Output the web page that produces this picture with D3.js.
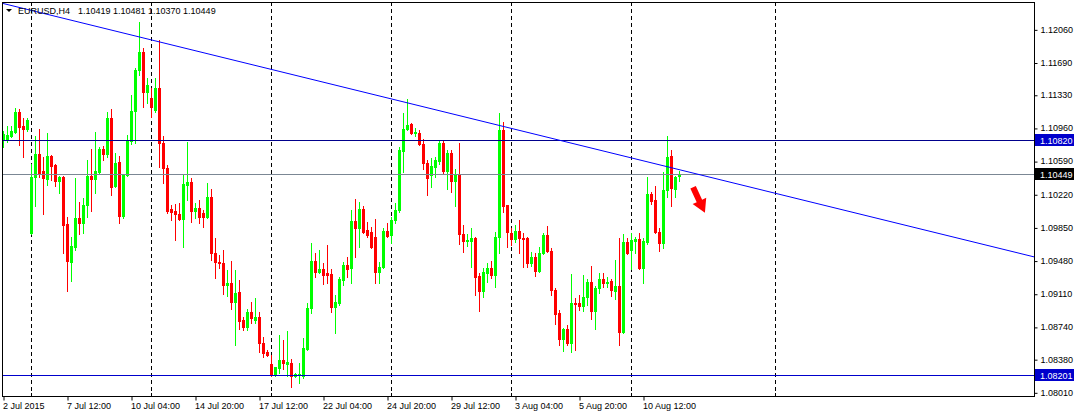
<!DOCTYPE html>
<html>
<head>
<meta charset="utf-8">
<script src="https://cdn.jsdelivr.net/npm/d3@7"></script>
<style>
body { margin: 0; background: #fff; }
svg { display: block; }
text { font-family: "Liberation Sans", Arial, sans-serif; font-size: 9px; fill: #000; }
</style>
</head>
<body>
<script>
var width = 1077, height = 414;
var frame = {left: 2, top: 2, right: 1034, bottom: 396};

var symbol = "EURUSD,H4";

// H4 bars, first visible bar = 2 Jul 20:00
var opens = [1.10825,1.10825,1.10870,1.10915,1.11138,1.10981,1.10948,1.09788,1.10412,1.10668,
1.10479,1.10390,1.10646,1.10546,1.10368,1.10412,1.09887,1.09464,1.09631,1.09955,
1.09899,1.10100,1.10423,1.10390,1.10468,1.10725,1.10668,1.11071,1.10312,1.10580,
1.09977,1.10434,1.10814,1.11149,1.11606,1.11807,1.11361,1.11294,1.11160,1.11405,
1.10792,1.10513,1.10056,1.10033,1.09999,1.09943,1.10323,1.10357,1.10033,1.10067,
1.10011,1.09966,1.10189,1.09565,1.09464,1.09453,1.09207,1.09230,1.09018,1.09130,
1.08817,1.08738,1.08906,1.08817,1.08850,1.08561,1.08460,1.08326,1.08203,1.08281,
1.08371,1.08326,1.08338,1.08192,1.08203,1.08192,1.08493,1.08950,1.09475,1.09353,
1.09386,1.09342,1.09330,1.08962,1.09007,1.09263,1.09430,1.09397,1.09921,1.09843,
1.10056,1.09821,1.09799,1.09743,1.09353,1.09408,1.09810,1.09765,1.09932,1.10044,
1.10702,1.10948,1.11003,1.10904,1.10904,1.10780,1.10569,1.10434,1.10524,1.10591,
1.10792,1.10479,1.10680,1.10368,1.10434,1.09776,1.09698,1.09698,1.09731,1.09308,
1.09141,1.09342,1.09397,1.09319,1.09743,1.10937,1.10100,1.09788,1.09720,1.09810,
1.09731,1.09731,1.09453,1.09520,1.09364,1.09565,1.09765,1.09587,1.09152,1.08895,
1.08605,1.08716,1.08561,1.09007,1.09007,1.08974,1.09074,1.09241,1.08917,1.09174,
1.09274,1.09230,1.09252,1.09141,1.09196,1.08683,1.09687,1.09598,1.09698,1.09720,
1.09397,1.09687,1.10222,1.10156,1.09799,1.09676,1.10267,1.10646,1.10278,1.10419];

var highs = [1.10926,1.10981,1.10981,1.11182,1.11171,1.11071,1.11071,1.10557,1.10870,1.10948,
1.10635,1.10904,1.10657,1.10557,1.10423,1.10423,1.09966,1.09743,1.10401,1.10134,
1.10178,1.10602,1.10725,1.10915,1.10747,1.10758,1.11138,1.11171,1.10680,1.10646,
1.10445,1.10881,1.11327,1.11628,1.12142,1.11851,1.11516,1.11405,1.11516,1.11941,
1.10870,1.10546,1.10100,1.10111,1.10123,1.10434,1.10803,1.10401,1.10123,1.10156,
1.10044,1.10346,1.10278,1.09731,1.09542,1.09598,1.09375,1.09475,1.09375,1.09263,
1.08850,1.08939,1.09018,1.09062,1.08906,1.08627,1.08482,1.08426,1.08292,1.08649,
1.08594,1.08694,1.08382,1.08226,1.08338,1.08616,1.09007,1.09676,1.09565,1.09598,
1.09453,1.09653,1.09386,1.09096,1.09296,1.09464,1.09520,1.10044,1.10167,1.10134,
1.10089,1.09910,1.09854,1.09943,1.09464,1.09843,1.09899,1.09966,1.10123,1.10747,
1.11127,1.11282,1.11014,1.10959,1.10937,1.10836,1.10602,1.10624,1.10635,1.10825,
1.10814,1.10713,1.10713,1.10501,1.10792,1.09876,1.09776,1.09843,1.09743,1.09342,
1.09397,1.09453,1.09475,1.09799,1.11127,1.11026,1.10100,1.09843,1.09876,1.09932,
1.09788,1.09743,1.09576,1.09565,1.09631,1.09788,1.09866,1.09620,1.09174,1.08928,
1.08728,1.08761,1.09330,1.09062,1.09096,1.09319,1.09274,1.09419,1.09196,1.09342,
1.09342,1.09296,1.09274,1.09486,1.09731,1.09776,1.09731,1.09788,1.09743,1.09788,
1.09731,1.10412,1.10245,1.10312,1.09843,1.10468,1.10870,1.10713,1.10423,1.10481];

var lows = [1.10747,1.10803,1.10859,1.10904,1.10769,1.10635,1.10926,1.09776,1.10089,1.10412,
1.09999,1.10323,1.10379,1.10312,1.10234,1.09565,1.09141,1.09252,1.09598,1.09776,
1.09788,1.09966,1.10033,1.10234,1.10457,1.10602,1.10635,1.10211,1.10301,1.09899,
1.09955,1.10423,1.10780,1.10792,1.11550,1.11193,1.11238,1.11082,1.11138,1.10524,
1.10346,1.10011,1.09932,1.09709,1.09932,1.09631,1.10156,1.09910,1.09955,1.09899,
1.09854,1.09955,1.09486,1.09285,1.09397,1.09107,1.09085,1.08939,1.08538,1.08716,
1.08705,1.08705,1.08784,1.08784,1.08460,1.08404,1.08416,1.08192,1.08192,1.08226,
1.08270,1.08192,1.08069,1.08181,1.08114,1.08169,1.08482,1.08895,1.09296,1.09342,
1.09218,1.09230,1.08906,1.08672,1.08984,1.09207,1.09296,1.09230,1.09520,1.09631,
1.09788,1.09743,1.09620,1.09230,1.09230,1.09397,1.09743,1.09676,1.09899,1.10022,
1.10468,1.10937,1.10892,1.10870,1.10769,1.10501,1.10211,1.10301,1.10412,1.10557,
1.10445,1.10278,1.10245,1.10089,1.09664,1.09576,1.09642,1.09408,1.09096,1.08917,
1.09074,1.09241,1.09285,1.09185,1.09565,1.10022,1.09631,1.09654,1.09687,1.09565,
1.09408,1.09408,1.09419,1.09308,1.09353,1.09554,1.09576,1.09096,1.08772,1.08538,
1.08471,1.08538,1.08460,1.08482,1.08928,1.08917,1.08984,1.08828,1.08716,1.09119,
1.09185,1.09185,1.09085,1.09051,1.08538,1.08672,1.09554,1.09386,1.09565,1.09386,
1.09230,1.09664,1.10111,1.09788,1.09587,1.09620,1.10189,1.10089,1.10189,1.10370];

var closes = [1.10892,1.10881,1.10926,1.11138,1.10970,1.10948,1.11048,1.10412,1.10668,1.10457,
1.10401,1.10646,1.10535,1.10368,1.10412,1.09876,1.09475,1.09642,1.09955,1.09899,
1.10100,1.10423,1.10390,1.10479,1.10725,1.10668,1.11071,1.10301,1.10569,1.09977,
1.10434,1.10814,1.11149,1.11606,1.11807,1.11361,1.11438,1.11193,1.11405,1.10792,
1.10513,1.10033,1.10022,1.09999,1.09943,1.10334,1.10357,1.10033,1.10067,1.09966,
1.09966,1.10189,1.09565,1.09464,1.09453,1.09207,1.09230,1.09018,1.09119,1.08806,
1.08738,1.08906,1.08839,1.08850,1.08561,1.08449,1.08426,1.08203,1.08292,1.08371,
1.08338,1.08349,1.08192,1.08214,1.08214,1.08504,1.08950,1.09475,1.09353,1.09386,
1.09319,1.09319,1.08962,1.09018,1.09274,1.09430,1.09386,1.09921,1.09843,1.10056,
1.09799,1.09765,1.09631,1.09353,1.09408,1.09810,1.09754,1.09932,1.10044,1.10713,
1.10948,1.10992,1.10904,1.10915,1.10780,1.10569,1.10401,1.10535,1.10602,1.10792,
1.10479,1.10680,1.10368,1.10434,1.09776,1.09698,1.09709,1.09731,1.09296,1.09141,
1.09353,1.09397,1.09319,1.09743,1.10937,1.10089,1.09799,1.09720,1.09810,1.09731,
1.09720,1.09453,1.09520,1.09364,1.09565,1.09765,1.09587,1.09152,1.08884,1.08605,
1.08716,1.08561,1.09007,1.08996,1.08974,1.09074,1.09241,1.08917,1.09174,1.09274,
1.09230,1.09241,1.09152,1.09196,1.08683,1.09687,1.09565,1.09709,1.09720,1.09397,
1.09698,1.10222,1.10145,1.09799,1.09676,1.10267,1.10635,1.10289,1.10412,1.10449];

var labelBars = [0, 16, 32, 48, 64, 80, 96, 112, 128, 144, 160];
var labelTexts = ["2 Jul 2015", "7 Jul 12:00", "10 Jul 04:00", "14 Jul 20:00", "17 Jul 12:00",
    "22 Jul 04:00", "24 Jul 20:00", "29 Jul 12:00", "3 Aug 04:00", "5 Aug 20:00", "10 Aug 12:00"];
var separatorBars = [7, 37, 67, 97, 127, 157, 193];
var priceTicks = [1.12060, 1.11690, 1.11330, 1.10960, 1.10590, 1.10220,
    1.09850, 1.09480, 1.09110, 1.08740, 1.08380, 1.08010];
var levels = [1.10820, 1.08201];
var levelColors = ["#00008c", "#0000cc"];
var trendBars = [0, 169];
var trendPrices = [1.12349, 1.10495];
var arrowBar = 174, arrowPrice = 1.10156;

var candles = opens.map(function(o, i) {
    return {i: i, open: o, high: highs[i], low: lows[i], close: closes[i]};
});
var last = candles[candles.length - 1];
var bid = last.close;
var fmt = d3.format(".5f");

var xScale = d3.scaleLinear().domain([0, 257]).range([3, 1031]);
var yScale = d3.scaleLinear().domain([1.07969, 1.12354]).range([396, 3]);
function py(p) { return Math.round(yScale(p)); }

var svg = d3.select("body").append("svg")
    .attr("width", width)
    .attr("height", height);

svg.append("defs").append("clipPath")
    .attr("id", "plot-clip")
    .append("rect")
    .attr("x", frame.left)
    .attr("y", frame.top)
    .attr("width", frame.right - frame.left)
    .attr("height", frame.bottom - frame.top);

var plot = svg.append("g").attr("clip-path", "url(#plot-clip)");

// weekly separators
plot.selectAll(".sep")
    .data(separatorBars)
    .enter()
    .append("line")
    .attr("x1", function(d) { return xScale(d) + 0.5; })
    .attr("x2", function(d) { return xScale(d) + 0.5; })
    .attr("y1", frame.top)
    .attr("y2", frame.bottom)
    .attr("stroke", "#000")
    .attr("stroke-dasharray", "4,3");

function col(d) { return d.close >= d.open ? "#00ff00" : "#ff0000"; }

plot.selectAll(".wick")
    .data(candles)
    .enter()
    .append("rect")
    .attr("x", function(d) { return xScale(d.i); })
    .attr("width", 1)
    .attr("y", function(d) { return py(d.high); })
    .attr("height", function(d) { return py(d.low) - py(d.high) + 1; })
    .attr("fill", col);

plot.selectAll(".body")
    .data(candles)
    .enter()
    .append("rect")
    .attr("x", function(d) { return xScale(d.i) - 1; })
    .attr("width", 3)
    .attr("y", function(d) { return py(Math.max(d.open, d.close)); })
    .attr("height", function(d) {
        return Math.max(1, py(Math.min(d.open, d.close)) - py(Math.max(d.open, d.close)) + 1);
    })
    .attr("fill", col);

// bid line
plot.append("line")
    .attr("x1", frame.left).attr("x2", frame.right)
    .attr("y1", py(bid) + 0.5).attr("y2", py(bid) + 0.5)
    .attr("stroke", "#7b8794");

plot.selectAll(".level")
    .data(levels)
    .enter()
    .append("line")
    .attr("x1", frame.left).attr("x2", frame.right)
    .attr("y1", function(d) { return py(d) + 0.5; })
    .attr("y2", function(d) { return py(d) + 0.5; })
    .attr("stroke", function(d, i) { return levelColors[i]; });

// trend line extended as a ray
var slope = (trendPrices[1] - trendPrices[0]) / (trendBars[1] - trendBars[0]);
var rayEnd = 260;
plot.append("line")
    .attr("x1", xScale(-1)).attr("y1", yScale(trendPrices[0] - slope))
    .attr("x2", xScale(rayEnd)).attr("y2", yScale(trendPrices[0] + slope * rayEnd))
    .attr("stroke", "#0000ff")
    .attr("stroke-width", 1);

// arrow
plot.append("path")
    .attr("d", "M-3,-14L3,-14L3,1L7.5,1L0,14L-7.5,1L-3,1Z")
    .attr("transform", "translate(" + xScale(arrowBar) + "," + yScale(arrowPrice) + ") rotate(-25)")
    .attr("fill", "#ff0000");

// frame
svg.append("rect")
    .attr("x", frame.left + 0.5)
    .attr("y", frame.top + 0.5)
    .attr("width", frame.right - frame.left)
    .attr("height", frame.bottom - frame.top)
    .attr("fill", "none")
    .attr("stroke", "#000");

// price axis
var yAxis = svg.append("g")
    .attr("transform", "translate(" + (frame.right + 0.5) + ",0)")
    .call(d3.axisRight(yScale).tickValues(priceTicks).tickSize(3).tickPadding(3).tickFormat(fmt));
yAxis.select(".domain").remove();
yAxis.selectAll("text").attr("font-family", null).attr("font-size", null);
yAxis.selectAll(".tick line").attr("transform", "translate(0,0.5)");

var tags = levels.map(function(p) { return {price: p, bg: "#0000cc"}; });
tags.push({price: bid, bg: "#000"});
var tag = svg.selectAll(".tag")
    .data(tags)
    .enter()
    .append("g")
    .attr("transform", function(d) { return "translate(" + (frame.right + 1) + "," + py(d.price) + ")"; });
tag.append("rect")
    .attr("x", 0).attr("y", -6)
    .attr("width", 39).attr("height", 12)
    .attr("fill", function(d) { return d.bg; });
tag.append("text")
    .attr("x", 5).attr("y", 3.5)
    .style("fill", "#fff")
    .text(function(d) { return fmt(d.price); });

// time axis
var xAxis = svg.append("g")
    .attr("transform", "translate(0.5," + (frame.bottom + 0.5) + ")")
    .call(d3.axisBottom(xScale).tickValues(labelBars).tickSize(4).tickPadding(2)
        .tickFormat(function(d, i) { return labelTexts[i]; }));
xAxis.select(".domain").remove();
xAxis.selectAll("text").attr("font-family", null).attr("font-size", null)
    .attr("text-anchor", "start").attr("x", -1);

svg.selectAll(".septick")
    .data(separatorBars)
    .enter()
    .append("line")
    .attr("x1", function(d) { return xScale(d) + 0.5; })
    .attr("x2", function(d) { return xScale(d) + 0.5; })
    .attr("y1", frame.bottom - 3)
    .attr("y2", frame.bottom)
    .attr("stroke", "#000");

// header
svg.append("path")
    .attr("d", "M6,9L12,9L9,12Z")
    .attr("fill", "#000");
svg.append("text")
    .attr("x", 18).attr("y", 14)
    .text(symbol);
svg.append("text")
    .attr("x", 78).attr("y", 14)
    .text([last.open, last.high, last.low, last.close].map(fmt).join(" "));
</script>
</body>
</html>
